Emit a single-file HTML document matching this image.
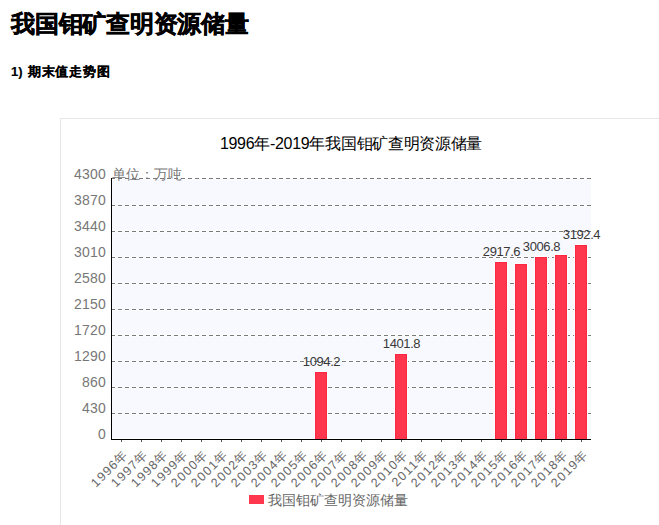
<!DOCTYPE html>
<html><head><meta charset="utf-8">
<style>
html,body{margin:0;padding:0;background:#fff;width:659px;height:525px;overflow:hidden;}
body{font-family:"Liberation Sans",sans-serif;position:relative;}
.h1{position:absolute;left:11px;top:8px;font-size:24px;font-weight:bold;color:#000;white-space:nowrap;line-height:32px;-webkit-text-stroke:0.5px #000;letter-spacing:-0.25px;}
.h2{position:absolute;left:11px;top:62px;font-size:13px;font-weight:bold;color:#000;white-space:nowrap;line-height:20px;-webkit-text-stroke:0.15px #000;}.h2 span{letter-spacing:0.9px;margin-left:1.5px;}
.box{position:absolute;left:60px;top:118px;width:700px;height:500px;border-left:1px solid #e6e6e6;border-top:1px solid #e6e6e6;}
svg{position:absolute;left:0;top:0;}
svg text{font-family:"Liberation Sans",sans-serif;}
.ct{font-size:16px;fill:#000;letter-spacing:-0.3px;}
.yl{font-size:14px;fill:#777;letter-spacing:0.2px;}
.vl{font-size:13px;fill:#383838;letter-spacing:-0.4px;}
.xl{font-size:12.5px;fill:#666;letter-spacing:1.3px;}
.unit{font-size:14px;fill:#777;}
.lg{font-size:14px;fill:#666;}
</style></head><body>
<div class="h1">我国钼矿查明资源储量</div>
<div class="h2">1) <span>期末值走势图</span></div>
<div class="box"></div>
<svg width="659" height="525" viewBox="0 0 659 525">
<text x="351" y="149" class="ct" text-anchor="middle">1996年-2019年我国钼矿查明资源储量</text>
<rect x="112" y="178" width="479" height="260" fill="#f8f9ff"/><line x1="111" x2="591" y1="177.5" y2="177.5" stroke="#fff" stroke-width="1" stroke-dasharray="4 3"/><line x1="111" x2="591" y1="179.5" y2="179.5" stroke="#fff" stroke-width="1" stroke-dasharray="4 3"/><line x1="110" x2="591" y1="178.5" y2="178.5" stroke="#fff" stroke-width="1" stroke-dasharray="6 1"/><line x1="111" x2="591" y1="178.5" y2="178.5" stroke="#787878" stroke-width="1" stroke-dasharray="4 3"/><line x1="111" x2="591" y1="204.5" y2="204.5" stroke="#fff" stroke-width="1" stroke-dasharray="4 3"/><line x1="111" x2="591" y1="206.5" y2="206.5" stroke="#fff" stroke-width="1" stroke-dasharray="4 3"/><line x1="110" x2="591" y1="205.5" y2="205.5" stroke="#fff" stroke-width="1" stroke-dasharray="6 1"/><line x1="111" x2="591" y1="205.5" y2="205.5" stroke="#787878" stroke-width="1" stroke-dasharray="4 3"/><line x1="111" x2="591" y1="230.5" y2="230.5" stroke="#fff" stroke-width="1" stroke-dasharray="4 3"/><line x1="111" x2="591" y1="232.5" y2="232.5" stroke="#fff" stroke-width="1" stroke-dasharray="4 3"/><line x1="110" x2="591" y1="231.5" y2="231.5" stroke="#fff" stroke-width="1" stroke-dasharray="6 1"/><line x1="111" x2="591" y1="231.5" y2="231.5" stroke="#787878" stroke-width="1" stroke-dasharray="4 3"/><line x1="111" x2="591" y1="256.5" y2="256.5" stroke="#fff" stroke-width="1" stroke-dasharray="4 3"/><line x1="111" x2="591" y1="258.5" y2="258.5" stroke="#fff" stroke-width="1" stroke-dasharray="4 3"/><line x1="110" x2="591" y1="257.5" y2="257.5" stroke="#fff" stroke-width="1" stroke-dasharray="6 1"/><line x1="111" x2="591" y1="257.5" y2="257.5" stroke="#787878" stroke-width="1" stroke-dasharray="4 3"/><line x1="111" x2="591" y1="282.5" y2="282.5" stroke="#fff" stroke-width="1" stroke-dasharray="4 3"/><line x1="111" x2="591" y1="284.5" y2="284.5" stroke="#fff" stroke-width="1" stroke-dasharray="4 3"/><line x1="110" x2="591" y1="283.5" y2="283.5" stroke="#fff" stroke-width="1" stroke-dasharray="6 1"/><line x1="111" x2="591" y1="283.5" y2="283.5" stroke="#787878" stroke-width="1" stroke-dasharray="4 3"/><line x1="111" x2="591" y1="308.5" y2="308.5" stroke="#fff" stroke-width="1" stroke-dasharray="4 3"/><line x1="111" x2="591" y1="310.5" y2="310.5" stroke="#fff" stroke-width="1" stroke-dasharray="4 3"/><line x1="110" x2="591" y1="309.5" y2="309.5" stroke="#fff" stroke-width="1" stroke-dasharray="6 1"/><line x1="111" x2="591" y1="309.5" y2="309.5" stroke="#787878" stroke-width="1" stroke-dasharray="4 3"/><line x1="111" x2="591" y1="334.5" y2="334.5" stroke="#fff" stroke-width="1" stroke-dasharray="4 3"/><line x1="111" x2="591" y1="336.5" y2="336.5" stroke="#fff" stroke-width="1" stroke-dasharray="4 3"/><line x1="110" x2="591" y1="335.5" y2="335.5" stroke="#fff" stroke-width="1" stroke-dasharray="6 1"/><line x1="111" x2="591" y1="335.5" y2="335.5" stroke="#787878" stroke-width="1" stroke-dasharray="4 3"/><line x1="111" x2="591" y1="360.5" y2="360.5" stroke="#fff" stroke-width="1" stroke-dasharray="4 3"/><line x1="111" x2="591" y1="362.5" y2="362.5" stroke="#fff" stroke-width="1" stroke-dasharray="4 3"/><line x1="110" x2="591" y1="361.5" y2="361.5" stroke="#fff" stroke-width="1" stroke-dasharray="6 1"/><line x1="111" x2="591" y1="361.5" y2="361.5" stroke="#787878" stroke-width="1" stroke-dasharray="4 3"/><line x1="111" x2="591" y1="386.5" y2="386.5" stroke="#fff" stroke-width="1" stroke-dasharray="4 3"/><line x1="111" x2="591" y1="388.5" y2="388.5" stroke="#fff" stroke-width="1" stroke-dasharray="4 3"/><line x1="110" x2="591" y1="387.5" y2="387.5" stroke="#fff" stroke-width="1" stroke-dasharray="6 1"/><line x1="111" x2="591" y1="387.5" y2="387.5" stroke="#787878" stroke-width="1" stroke-dasharray="4 3"/><line x1="111" x2="591" y1="412.5" y2="412.5" stroke="#fff" stroke-width="1" stroke-dasharray="4 3"/><line x1="111" x2="591" y1="414.5" y2="414.5" stroke="#fff" stroke-width="1" stroke-dasharray="4 3"/><line x1="110" x2="591" y1="413.5" y2="413.5" stroke="#fff" stroke-width="1" stroke-dasharray="6 1"/><line x1="111" x2="591" y1="413.5" y2="413.5" stroke="#787878" stroke-width="1" stroke-dasharray="4 3"/><text x="321.5" y="366" class="vl" text-anchor="middle">1094.2</text><text x="401.5" y="348" class="vl" text-anchor="middle">1401.8</text><text x="501.5" y="256" class="vl" text-anchor="middle">2917.6</text><text x="541.5" y="251" class="vl" text-anchor="middle">3006.8</text><text x="581.5" y="239" class="vl" text-anchor="middle">3192.4</text><rect x="315" y="371" width="12" height="1" fill="#fbfeff"/><rect x="314" y="372" width="1" height="66" fill="#fbfeff"/><rect x="327" y="372" width="1" height="66" fill="#fbfeff"/><rect x="315" y="372" width="12" height="67" fill="#ff2642"/><rect x="316" y="373" width="10" height="66" fill="#ff374e"/><rect x="395" y="353" width="12" height="1" fill="#fbfeff"/><rect x="394" y="354" width="1" height="84" fill="#fbfeff"/><rect x="407" y="354" width="1" height="84" fill="#fbfeff"/><rect x="395" y="354" width="12" height="85" fill="#ff2642"/><rect x="396" y="355" width="10" height="84" fill="#ff374e"/><rect x="495" y="261" width="12" height="1" fill="#fbfeff"/><rect x="494" y="262" width="1" height="176" fill="#fbfeff"/><rect x="507" y="262" width="1" height="176" fill="#fbfeff"/><rect x="495" y="262" width="12" height="177" fill="#ff2642"/><rect x="496" y="263" width="10" height="176" fill="#ff374e"/><rect x="515" y="263" width="12" height="1" fill="#fbfeff"/><rect x="514" y="264" width="1" height="174" fill="#fbfeff"/><rect x="527" y="264" width="1" height="174" fill="#fbfeff"/><rect x="515" y="264" width="12" height="175" fill="#ff2642"/><rect x="516" y="265" width="10" height="174" fill="#ff374e"/><rect x="535" y="256" width="12" height="1" fill="#fbfeff"/><rect x="534" y="257" width="1" height="181" fill="#fbfeff"/><rect x="547" y="257" width="1" height="181" fill="#fbfeff"/><rect x="535" y="257" width="12" height="182" fill="#ff2642"/><rect x="536" y="258" width="10" height="181" fill="#ff374e"/><rect x="555" y="254" width="12" height="1" fill="#fbfeff"/><rect x="554" y="255" width="1" height="183" fill="#fbfeff"/><rect x="567" y="255" width="1" height="183" fill="#fbfeff"/><rect x="555" y="255" width="12" height="184" fill="#ff2642"/><rect x="556" y="256" width="10" height="183" fill="#ff374e"/><rect x="575" y="244" width="12" height="1" fill="#fbfeff"/><rect x="574" y="245" width="1" height="193" fill="#fbfeff"/><rect x="587" y="245" width="1" height="193" fill="#fbfeff"/><rect x="575" y="245" width="12" height="194" fill="#ff2642"/><rect x="576" y="246" width="10" height="193" fill="#ff374e"/><rect x="111" y="178" width="1" height="262" fill="#000"/><rect x="111" y="439" width="480" height="1" fill="#000"/><rect x="121" y="440" width="1" height="2" fill="#555"/><rect x="141" y="440" width="1" height="2" fill="#555"/><rect x="161" y="440" width="1" height="2" fill="#555"/><rect x="181" y="440" width="1" height="2" fill="#555"/><rect x="201" y="440" width="1" height="2" fill="#555"/><rect x="221" y="440" width="1" height="2" fill="#555"/><rect x="241" y="440" width="1" height="2" fill="#555"/><rect x="261" y="440" width="1" height="2" fill="#555"/><rect x="281" y="440" width="1" height="2" fill="#555"/><rect x="301" y="440" width="1" height="2" fill="#555"/><rect x="321" y="440" width="1" height="2" fill="#555"/><rect x="341" y="440" width="1" height="2" fill="#555"/><rect x="361" y="440" width="1" height="2" fill="#555"/><rect x="381" y="440" width="1" height="2" fill="#555"/><rect x="401" y="440" width="1" height="2" fill="#555"/><rect x="421" y="440" width="1" height="2" fill="#555"/><rect x="441" y="440" width="1" height="2" fill="#555"/><rect x="461" y="440" width="1" height="2" fill="#555"/><rect x="481" y="440" width="1" height="2" fill="#555"/><rect x="501" y="440" width="1" height="2" fill="#555"/><rect x="521" y="440" width="1" height="2" fill="#555"/><rect x="541" y="440" width="1" height="2" fill="#555"/><rect x="561" y="440" width="1" height="2" fill="#555"/><rect x="581" y="440" width="1" height="2" fill="#555"/><text x="106" y="179" class="yl" text-anchor="end">4300</text><text x="106" y="205" class="yl" text-anchor="end">3870</text><text x="106" y="231" class="yl" text-anchor="end">3440</text><text x="106" y="257" class="yl" text-anchor="end">3010</text><text x="106" y="283" class="yl" text-anchor="end">2580</text><text x="106" y="309" class="yl" text-anchor="end">2150</text><text x="106" y="335" class="yl" text-anchor="end">1720</text><text x="106" y="361" class="yl" text-anchor="end">1290</text><text x="106" y="387" class="yl" text-anchor="end">860</text><text x="106" y="413" class="yl" text-anchor="end">430</text><text x="106" y="439" class="yl" text-anchor="end">0</text><text x="129.5" y="454.5" class="xl" text-anchor="end" transform="rotate(-45 129.5 454.5)">1996年</text><text x="149.5" y="454.5" class="xl" text-anchor="end" transform="rotate(-45 149.5 454.5)">1997年</text><text x="169.5" y="454.5" class="xl" text-anchor="end" transform="rotate(-45 169.5 454.5)">1998年</text><text x="189.5" y="454.5" class="xl" text-anchor="end" transform="rotate(-45 189.5 454.5)">1999年</text><text x="209.5" y="454.5" class="xl" text-anchor="end" transform="rotate(-45 209.5 454.5)">2000年</text><text x="229.5" y="454.5" class="xl" text-anchor="end" transform="rotate(-45 229.5 454.5)">2001年</text><text x="249.5" y="454.5" class="xl" text-anchor="end" transform="rotate(-45 249.5 454.5)">2002年</text><text x="269.5" y="454.5" class="xl" text-anchor="end" transform="rotate(-45 269.5 454.5)">2003年</text><text x="289.5" y="454.5" class="xl" text-anchor="end" transform="rotate(-45 289.5 454.5)">2004年</text><text x="309.5" y="454.5" class="xl" text-anchor="end" transform="rotate(-45 309.5 454.5)">2005年</text><text x="329.5" y="454.5" class="xl" text-anchor="end" transform="rotate(-45 329.5 454.5)">2006年</text><text x="349.5" y="454.5" class="xl" text-anchor="end" transform="rotate(-45 349.5 454.5)">2007年</text><text x="369.5" y="454.5" class="xl" text-anchor="end" transform="rotate(-45 369.5 454.5)">2008年</text><text x="389.5" y="454.5" class="xl" text-anchor="end" transform="rotate(-45 389.5 454.5)">2009年</text><text x="409.5" y="454.5" class="xl" text-anchor="end" transform="rotate(-45 409.5 454.5)">2010年</text><text x="429.5" y="454.5" class="xl" text-anchor="end" transform="rotate(-45 429.5 454.5)">2011年</text><text x="449.5" y="454.5" class="xl" text-anchor="end" transform="rotate(-45 449.5 454.5)">2012年</text><text x="469.5" y="454.5" class="xl" text-anchor="end" transform="rotate(-45 469.5 454.5)">2013年</text><text x="489.5" y="454.5" class="xl" text-anchor="end" transform="rotate(-45 489.5 454.5)">2014年</text><text x="509.5" y="454.5" class="xl" text-anchor="end" transform="rotate(-45 509.5 454.5)">2015年</text><text x="529.5" y="454.5" class="xl" text-anchor="end" transform="rotate(-45 529.5 454.5)">2016年</text><text x="549.5" y="454.5" class="xl" text-anchor="end" transform="rotate(-45 549.5 454.5)">2017年</text><text x="569.5" y="454.5" class="xl" text-anchor="end" transform="rotate(-45 569.5 454.5)">2018年</text><text x="589.5" y="454.5" class="xl" text-anchor="end" transform="rotate(-45 589.5 454.5)">2019年</text>
<text x="112" y="179" class="unit">单位：万吨</text>
<rect x="249" y="495" width="15" height="9" fill="#ff374e"/>
<text x="268" y="505" class="lg">我国钼矿查明资源储量</text>
</svg>
</body></html>
